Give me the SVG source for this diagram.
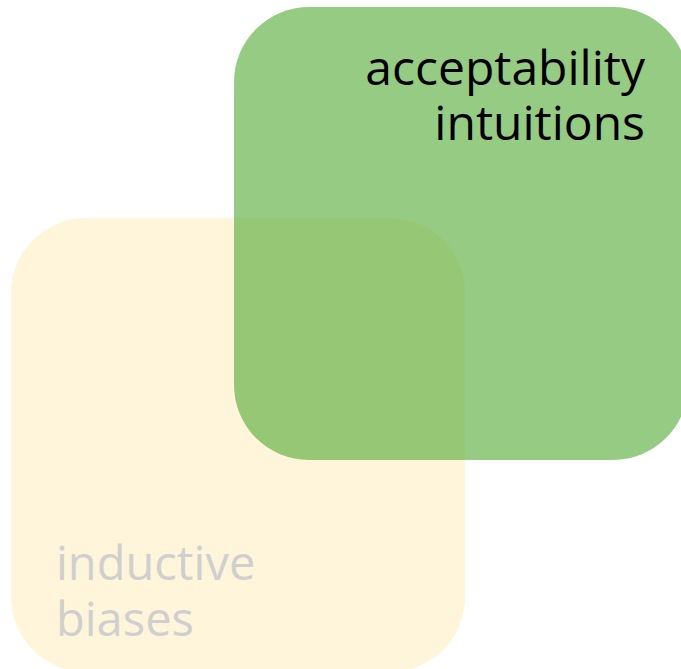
<svg xmlns="http://www.w3.org/2000/svg" width="681" height="669" viewBox="0 0 681 669">
<style>
.lbl{font-family:"Open Sans","Noto Sans",sans-serif;font-size:47px}
</style>
<rect width="681" height="669" fill="#ffffff"/>
<g id="inductive-biases">
<rect x="11" y="218" width="454" height="454" rx="75" fill="#FFF5DA"/>
<text class="lbl" fill="#CFCFCF"><tspan x="56" y="580">inductive</tspan><tspan x="56" y="636">biases</tspan></text>
</g>
<g id="acceptability-intuitions">
<rect x="234" y="7" width="454" height="453" rx="75" fill="#50A832" fill-opacity="0.6"/>
<text class="lbl" text-anchor="end" fill="#000000" style="font-size:48px"><tspan x="645" y="85">acceptability</tspan><tspan x="645" y="140">intuitions</tspan></text>
</g>
<g id="connectors"/>
</svg>
